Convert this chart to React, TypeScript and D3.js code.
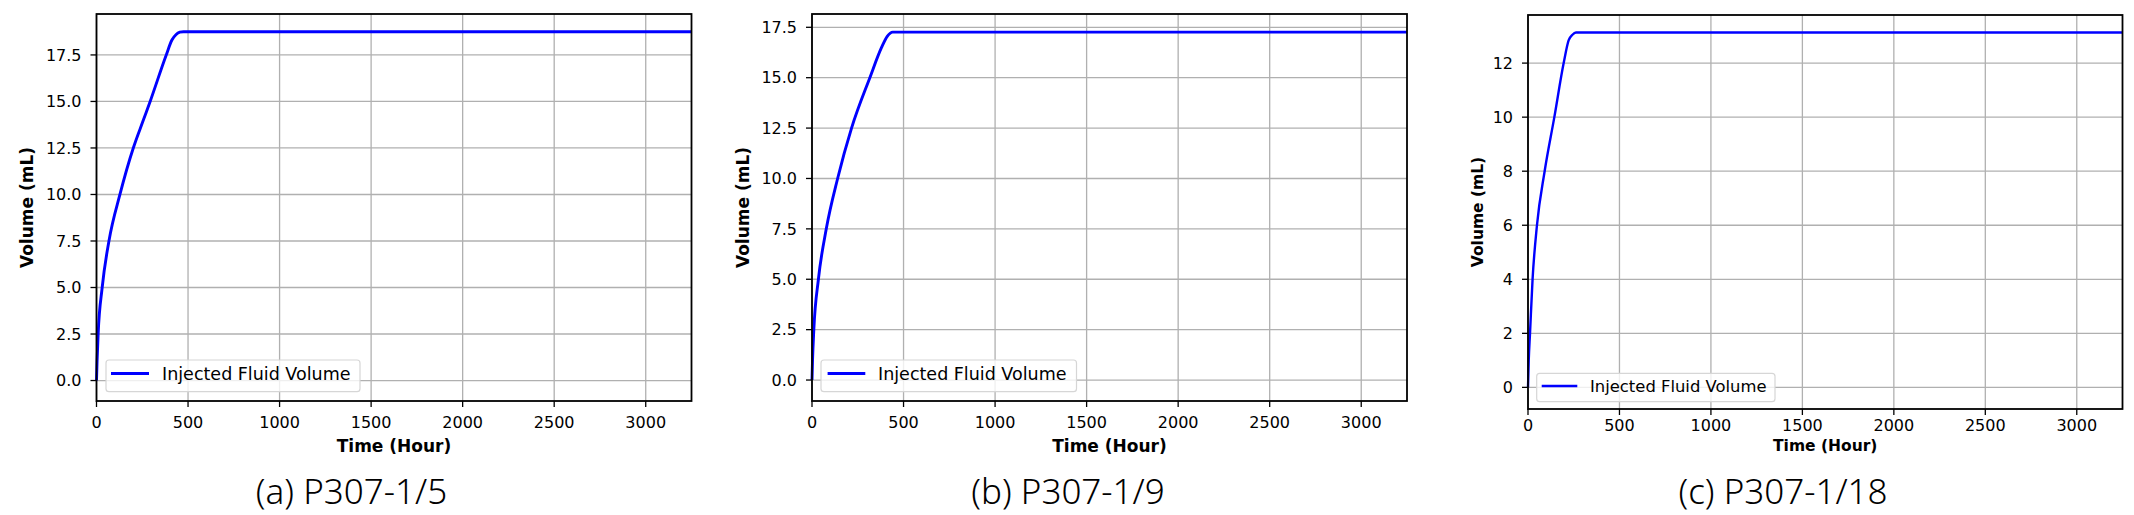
import React from "react";
import * as d3 from "d3";

// ---- data ----
const timeA = [0, 3, 9, 31, 68, 128, 201, 256, 293, 381, 412, 435, 455, 475, 3250];
const volA = [0, 1.0, 2.5, 5, 7.5, 10, 12.5, 14, 15, 17.5, 18.3, 18.6, 18.72, 18.75, 18.75];

const timeB = [0, 3, 10, 35, 78, 140, 216, 316, 380, 411, 441, 3250];
const volB = [0, 1.0, 2.5, 5, 7.5, 10, 12.5, 15, 16.5, 17.05, 17.26, 17.26];

const timeC = [0, 4, 11, 25, 49, 91, 144, 195, 222, 243, 262, 3250];
const volC = [0, 1, 2, 4, 6, 8, 10, 12, 12.84, 13.05, 13.13, 13.13];

const xTicks = [0, 500, 1000, 1500, 2000, 2500, 3000];
const yTicksA = [0, 2.5, 5, 7.5, 10, 12.5, 15, 17.5];
const yTicksB = [0, 2.5, 5, 7.5, 10, 12.5, 15, 17.5];
const yTicksC = [0, 2, 4, 6, 8, 10, 12];

const captions = ["(a) P307-1/5", "(b) P307-1/9", "(c) P307-1/18"];
const seriesName = "Injected Fluid Volume";
const xLabel = "Time (Hour)";
const yLabel = "Volume (mL)";

// ---- layout ----
const panels = [
  {
    t: timeA, v: volA, yTicks: yTicksA, fmt: (d: number) => d.toFixed(1),
    left: 96.5, right: 691.5, top: 14, bottom: 401, yDom: [-1.1, 19.7],
    xTickBase: 27, xLabelY: 452, yLabelX: 33, labelSize: 17, lw: 2.9,
    leg: { x: 106, y: 360, w: 254, h: 31.7, l1: 111, l2: 149, ly: 373.5, tx: 162, fs: 17.5 },
    cap: { x: 351.5 },
  },
  {
    t: timeB, v: volB, yTicks: yTicksB, fmt: (d: number) => d.toFixed(1),
    left: 812, right: 1407, top: 14, bottom: 401, yDom: [-1.04, 18.16],
    xTickBase: 27, xLabelY: 452, yLabelX: 749, labelSize: 17, lw: 2.9,
    leg: { x: 821, y: 360, w: 255.5, h: 31.7, l1: 827.6, l2: 865.3, ly: 373.5, tx: 878, fs: 17.5 },
    cap: { x: 1068 },
  },
  {
    t: timeC, v: volC, yTicks: yTicksC, fmt: (d: number) => String(d),
    left: 1528, right: 2122.5, top: 15, bottom: 409, yDom: [-0.8, 13.78],
    xTickBase: 22, xLabelY: 451, yLabelX: 1483, labelSize: 15.5, lw: 2.4,
    leg: { x: 1536.7, y: 373.3, w: 238.3, h: 28.4, l1: 1541.7, l2: 1577.3, ly: 386, tx: 1590, fs: 16.4 },
    cap: { x: 1783 },
  },
];

const FONT = "'DejaVu Sans', sans-serif";

function Panel({ p }: { p: (typeof panels)[number] }) {
  const x = d3.scaleLinear().domain([0, 3250]).range([p.left, p.right]);
  const y = d3.scaleLinear().domain(p.yDom).range([p.bottom, p.top]);
  const pts = p.t.map((t, i) => [t, p.v[i]] as [number, number]);
  const line = d3
    .line<[number, number]>()
    .x((d) => x(d[0]))
    .y((d) => y(d[1]))
    .curve(d3.curveMonotoneX);
  const cy = (p.top + p.bottom) / 2;
  const cx = (p.left + p.right) / 2;
  return (
    <g>
      {xTicks.map((t) => (
        <line key={"gx" + t} x1={x(t)} x2={x(t)} y1={p.top} y2={p.bottom} stroke="#b0b0b0" strokeWidth={1.3} />
      ))}
      {p.yTicks.map((t) => (
        <line key={"gy" + t} x1={p.left} x2={p.right} y1={y(t)} y2={y(t)} stroke="#b0b0b0" strokeWidth={1.3} />
      ))}
      <path d={line(pts) || ""} fill="none" stroke="#0000ff" strokeWidth={p.lw} strokeLinejoin="round" />
      <rect x={p.left} y={p.top} width={p.right - p.left} height={p.bottom - p.top} fill="none" stroke="#000" strokeWidth={1.8} />
      {xTicks.map((t) => (
        <g key={"xt" + t}>
          <line x1={x(t)} x2={x(t)} y1={p.bottom} y2={p.bottom + 6} stroke="#000" strokeWidth={1.3} />
          <text x={x(t)} y={p.bottom + p.xTickBase} fontFamily={FONT} fontSize={16} textAnchor="middle" fill="#000">
            {t}
          </text>
        </g>
      ))}
      {p.yTicks.map((t) => (
        <g key={"yt" + t}>
          <line x1={p.left - 6} x2={p.left} y1={y(t)} y2={y(t)} stroke="#000" strokeWidth={1.3} />
          <text x={p.left - 15} y={y(t) + 5.8} fontFamily={FONT} fontSize={16} textAnchor="end" fill="#000">
            {p.fmt(t)}
          </text>
        </g>
      ))}
      <text x={cx} y={p.xLabelY} fontFamily={FONT} fontWeight="bold" fontSize={p.labelSize} textAnchor="middle" fill="#000">
        {xLabel}
      </text>
      <text
        transform={`translate(${p.yLabelX},${cy}) rotate(-90)`}
        fontFamily={FONT}
        fontWeight="bold"
        fontSize={p.labelSize}
        textAnchor="middle"
        fill="#000"
      >
        {yLabel}
      </text>
      <rect x={p.leg.x} y={p.leg.y} width={p.leg.w} height={p.leg.h} rx={3} ry={3} fill="#fff" fillOpacity={0.8} stroke="#d6d6d6" strokeWidth={1.2} />
      <line x1={p.leg.l1} x2={p.leg.l2} y1={p.leg.ly} y2={p.leg.ly} stroke="#0000ff" strokeWidth={p.lw} />
      <text x={p.leg.tx} y={p.leg.ly + p.leg.fs * 0.36} fontFamily={FONT} fontSize={p.leg.fs} fill="#000">
        {seriesName}
      </text>
    </g>
  );
}

export default function App() {
  return (
    <svg
      width={2134}
      height={515}
      viewBox="0 0 2134 515"
      style={{ position: "absolute", left: 0, top: 0, background: "#fff" }}
    >
      <rect x={0} y={0} width={2134} height={515} fill="#fff" />
      {panels.map((p, i) => (
        <Panel key={i} p={p} />
      ))}
      {panels.map((p, i) => (
        <text
          key={"cap" + i}
          x={p.cap.x}
          y={504}
          fontFamily="'Noto Sans', sans-serif"
          fontWeight={300}
          fontSize={35}
          textAnchor="middle"
          fill="#000"
        >
          {captions[i]}
        </text>
      ))}
    </svg>
  );
}
